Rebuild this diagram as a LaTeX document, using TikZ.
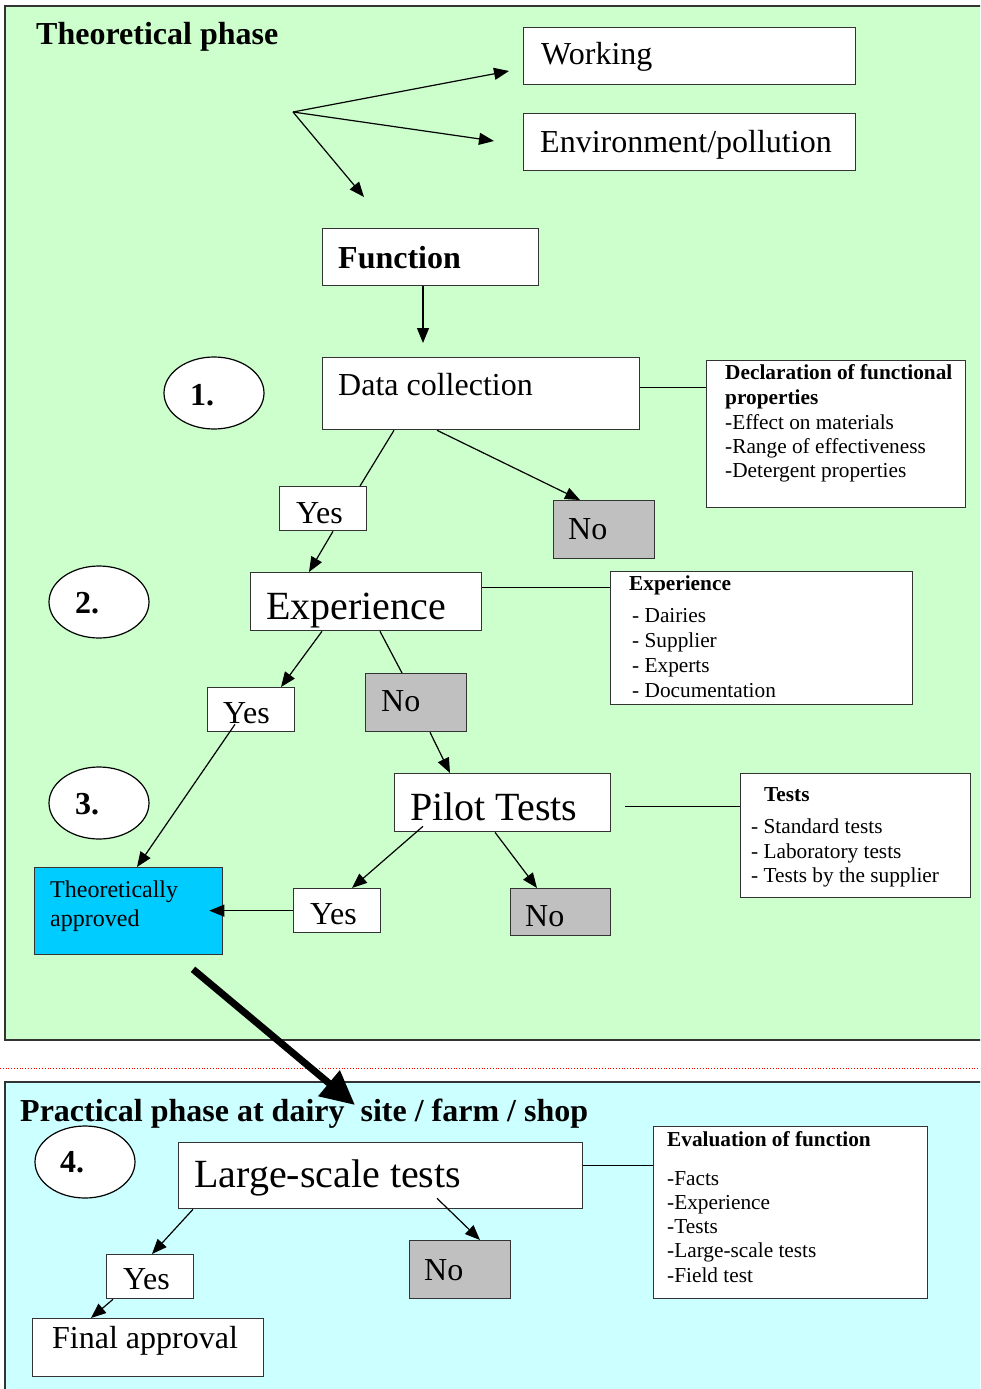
\documentclass[tikz,border=0pt]{standalone}
\usepackage{fontspec}
\setmainfont{Liberation Serif}
\usetikzlibrary{arrows.meta,shapes.geometric}
\definecolor{panelgreen}{HTML}{CCFFCC}
\definecolor{panelcyan}{HTML}{CCFFFF}
\definecolor{approvedblue}{HTML}{00CCFF}
\definecolor{nogray}{HTML}{C0C0C0}
\definecolor{edgecol}{HTML}{333333}
\begin{document}
\begin{tikzpicture}[x=1pt,y=-1pt,
  box/.style={draw=edgecol, line width=1.3pt, fill=white, rectangle, inner sep=0pt, anchor=north west},
  nobox/.style={box, fill=nogray},
  oval/.style={draw=black, line width=1.2pt, fill=white, ellipse, minimum width=100pt, minimum height=72pt, inner sep=0pt},
  conn/.style={line width=1.2pt, draw=black},
  arr/.style={conn, -{Triangle[length=15pt,width=12pt]}},
  txt/.style={anchor=base west, inner sep=0pt},
  fbig/.style={font=\fontsize{32}{38}\selectfont},
  fbigb/.style={font=\fontsize{32}{38}\selectfont\bfseries},
  fhuge/.style={font=\fontsize{40}{48}\selectfont},
  fsmall/.style={font=\fontsize{21.3}{25}\selectfont},
  fsmallb/.style={font=\fontsize{21.3}{25}\selectfont\bfseries},
  fmid/.style={font=\fontsize{24}{29}\selectfont},
]
\useasboundingbox (0,0) rectangle (980,1389);
\clip (0,0) rectangle (980,1389);
% panels
\fill[white] (0,0) rectangle (980,1389);
\draw[draw=edgecol, line width=1.3pt, fill=panelgreen] (5,6) rectangle (1000,1040);
\draw[red, dotted, line width=0.8pt] (0,1068) -- (980,1068);
\draw[draw=edgecol, line width=1.3pt, fill=panelcyan] (5,1082) rectangle (1000,1400);

% titles
\node[txt, fbigb] (title1) at (36,45) {Theoretical phase};
\node[txt, fbigb] (title2) at (20,1121) {Practical phase at dairy\ \ site / farm / shop};

% top boxes
\node[box, minimum width=332pt, minimum height=57pt] (work) at (523,27) {};
\node[txt, fbig] (workt) at (541,65) {Working};
\node[box, minimum width=332pt, minimum height=57pt] (env) at (523,113) {};
\node[txt, fbig] (envt) at (540,152) {Environment/pollution};

\coordinate (orig) at (293,112);
\coordinate (endw) at (509,71);
\coordinate (ende) at (494,141);
\coordinate (endf) at (364,197);
\draw[arr] (orig) -- (endw);
\draw[arr] (orig) -- (ende);
\draw[arr] (orig) -- (endf);

% function
\node[box, minimum width=216pt, minimum height=57pt] (func) at (322,228) {};
\node[txt, fbigb] (funct) at (338,268) {Function};

% data collection
\node[box, minimum width=317pt, minimum height=72pt] (dc) at (322,357) {};
\node[txt, fbig] (dct) at (338,395) {Data collection};
\draw[arr, shorten >=14pt] ([xshift=101pt]func.south west) -- ([xshift=101pt]dc.north west);

\node[oval] (e1) at (214,393) {};
\node[txt, fbigb] (e1t) at (190,405) {1.};

\node[box, minimum width=259pt, minimum height=147pt] (decl) at (706,360) {};
\node[txt, fsmallb] (declt1) at (725,379) {Declaration of functional};
\node[txt, fsmallb] (declt2) at (725,404) {properties};
\node[txt, fsmall] (declt3) at (725,429) {-Effect on materials};
\node[txt, fsmall] (declt4) at (725,453) {-Range of effectiveness};
\node[txt, fsmall] (declt5) at (725,477) {-Detergent properties};
\draw[conn] ([yshift=6pt]dc.east) coordinate (dcr) -- (dcr -| decl.west);

\node[box, minimum width=87pt, minimum height=44pt] (yes1) at (279,486) {};
\node[txt, fbig] (yes1t) at (296,523) {Yes};
\node[nobox, minimum width=101pt, minimum height=58pt] (no1) at (553,500) {};
\node[txt, fbig] (no1t) at (568,539) {No};
\draw[conn] ([xshift=72pt]dc.south west) -- ([xshift=81pt]yes1.north west);
\draw[arr] ([xshift=115pt]dc.south west) -- ([xshift=27pt]no1.north west);

% experience
\node[box, minimum width=231pt, minimum height=58pt] (exp) at (250,572) {};
\node[txt, fhuge] (expt) at (266,619) {Experience};
\draw[arr] ([xshift=54pt]yes1.south west) -- ([xshift=59pt]exp.north west);

\node[oval] (e2) at (99,602) {};
\node[txt, fbigb] (e2t) at (75,613) {2.};

\node[box, minimum width=302pt, minimum height=133pt] (expside) at (610,571) {};
\node[txt, fsmallb] (expsidet1) at (629,590) {Experience};
\node[txt, fsmall] (expsidet2) at (632,622) {- Dairies};
\node[txt, fsmall] (expsidet3) at (632,647) {- Supplier};
\node[txt, fsmall] (expsidet4) at (632,672) {- Experts};
\node[txt, fsmall] (expsidet5) at (632,697) {- Documentation};
\draw[conn] ([yshift=14pt]exp.east) coordinate (expr) -- (expr -| expside.west);

\node[box, minimum width=87pt, minimum height=44pt] (yes2) at (207,687) {};
\node[txt, fbig] (yes2t) at (223,723) {Yes};
\node[nobox, minimum width=101pt, minimum height=58pt] (no2) at (365,673) {};
\node[txt, fbig] (no2t) at (381,711) {No};
\draw[arr] ([xshift=72pt]exp.south west) -- ([xshift=74pt]yes2.north west);
\draw[conn] ([xshift=130pt]exp.south west) -- ([xshift=37pt]no2.north west);

% pilot tests
\node[box, minimum width=216pt, minimum height=58pt] (pilot) at (394,773) {};
\node[txt, fhuge] (pilott) at (410,820) {Pilot Tests};
\draw[arr] ([xshift=65pt]no2.south west) -- ([xshift=56pt]pilot.north west);

\node[oval] (e3) at (99,803) {};
\node[txt, fbigb] (e3t) at (75,814) {3.};

\node[box, minimum width=230pt, minimum height=124pt] (tests) at (740,773) {};
\node[txt, fsmallb] (testst1) at (764,801) {Tests};
\node[txt, fsmall] (testst2) at (751,833) {- Standard tests};
\node[txt, fsmall] (testst3) at (751,858) {- Laboratory tests};
\node[txt, fsmall] (testst4) at (751,882) {- Tests by the supplier};
\draw[conn] ([xshift=14pt,yshift=-4pt]pilot.east) coordinate (pilr) -- (pilr -| tests.west);

% theoretically approved
\node[box, fill=approvedblue, minimum width=188pt, minimum height=87pt] (ta) at (34,867) {};
\node[txt, fmid] (tat1) at (50,897) {Theoretically};
\node[txt, fmid] (tat2) at (50,926) {approved};
\draw[arr] ([xshift=28pt,yshift=8pt]yes2.south west) -- ([xshift=103pt]ta.north west);

\node[box, minimum width=87pt, minimum height=44pt] (yes3) at (293,888) {};
\node[txt, fbig] (yes3t) at (310,924) {Yes};
\node[nobox, minimum width=100pt, minimum height=47pt] (no3) at (510,888) {};
\node[txt, fbig] (no3t) at (525,926) {No};
\draw[arr] ([xshift=29pt,yshift=6pt]pilot.south west) -- ([xshift=59pt]yes3.north west);
\draw[arr] ([xshift=101pt]pilot.south west) -- ([xshift=27pt]no3.north west);
\draw[arr] (yes3.west) -- ([xshift=-14pt]ta.east |- yes3.west);

% large-scale tests
\node[box, minimum width=404pt, minimum height=66pt] (lst) at (178,1142) {};
\node[txt, fhuge] (lstt) at (194,1187) {Large-scale tests};
\draw[line width=7pt, -{Triangle[length=34pt,width=32pt]}] ([xshift=159pt,yshift=-14pt]ta.south west) -- ([xshift=177pt,yshift=37pt]lst.north west);

\node[oval] (e4) at (85,1162) {};
\node[txt, fbigb] (e4t) at (60,1172) {4.};

\node[box, minimum width=274pt, minimum height=172pt] (eval) at (653,1126) {};
\node[txt, fsmallb] (evalt1) at (667,1146) {Evaluation of function};
\node[txt, fsmall] (evalt2) at (667,1185) {-Facts};
\node[txt, fsmall] (evalt3) at (667,1209) {-Experience};
\node[txt, fsmall] (evalt4) at (667,1233) {-Tests};
\node[txt, fsmall] (evalt5) at (667,1257) {-Large-scale tests};
\node[txt, fsmall] (evalt6) at (667,1282) {-Field test};
\draw[conn] ([yshift=10pt]lst.east) coordinate (lstr) -- (lstr -| eval.west);

\node[box, minimum width=87pt, minimum height=44pt] (yes4) at (106,1254) {};
\node[txt, fbig] (yes4t) at (123,1289) {Yes};
\node[nobox, minimum width=101pt, minimum height=58pt] (no4) at (409,1240) {};
\node[txt, fbig] (no4t) at (424,1280) {No};
\draw[arr] ([xshift=15pt]lst.south west) -- ([xshift=46pt]yes4.north west);
\draw[arr] ([xshift=259pt,yshift=11pt]lst.south west) -- ([xshift=71pt]no4.north west);

\node[box, minimum width=231pt, minimum height=58pt] (final) at (32,1318) {};
\node[txt, fbig] (finalt) at (52,1348) {Final approval};
\draw[arr] ([xshift=7pt]yes4.south west) -- ([xshift=59pt]final.north west);
\end{tikzpicture}
\end{document}
